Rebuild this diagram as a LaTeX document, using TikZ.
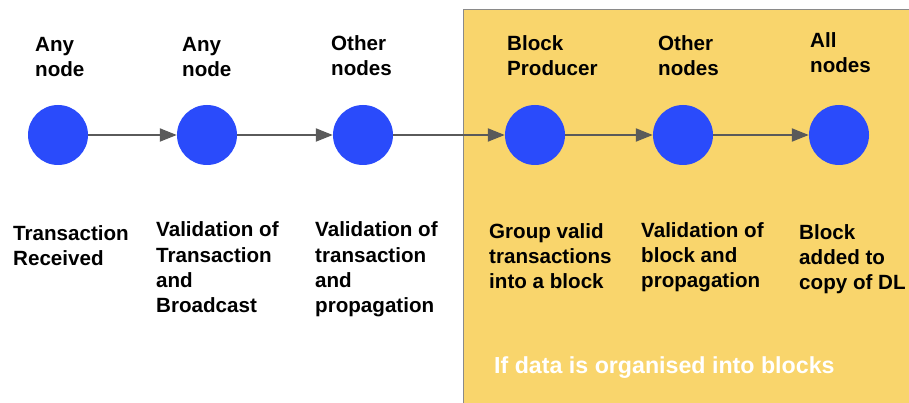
\documentclass[tikz,border=0pt]{standalone}
\usepackage{fontspec}
\setmainfont{Liberation Sans}
\usetikzlibrary{arrows.meta}
\definecolor{dotblue}{HTML}{2A4BFB}
\definecolor{blockyellow}{HTML}{F9D56C}
\definecolor{arrowgray}{HTML}{5A5A5A}
\definecolor{frame}{HTML}{8A8A8A}
\tikzset{
  stage/.style={circle, fill=dotblue, draw=none, minimum size=60pt, inner sep=0pt},
  % captions are anchored on the baseline of their last line
  caption/.style={anchor=base west, inner sep=0pt, align=left,
    font=\fontsize{20.6}{25.2}\selectfont\bfseries, text=black},
  flow/.style={draw=arrowgray, line width=2pt, -{Triangle[length=17pt,width=13pt]}},
}
\begin{document}
\begin{tikzpicture}[x=1pt,y=-1pt]
  \clip (0,0) rectangle (909,403);
  \fill[white] (0,0) rectangle (909,403);
  % shaded region for block-based ledgers
  \draw[fill=blockyellow, draw=frame, line width=1pt] (463.5,10) rectangle (930,430);

  % stages
  \node[stage] (s1) at (58,135) {};
  \node[stage] (s2) at (207,135) {};
  \node[stage] (s3) at (363,135) {};
  \node[stage] (s4) at (535,135) {};
  \node[stage] (s5) at (683,135) {};
  \node[stage] (s6) at (839,135) {};

  \draw[flow] (s1) -- (s2);
  \draw[flow] (s2) -- (s3);
  \draw[flow] (s3) -- (s4);
  \draw[flow] (s4) -- (s5);
  \draw[flow] (s5) -- (s6);

  % who does it
  \node[caption] (w1) at (35,77) {Any\\node};
  \node[caption] (w2) at (182,77) {Any\\node};
  \node[caption] (w3) at (331,76) {Other\\nodes};
  \node[caption] (w4) at (507,76) {Block\\Producer};
  \node[caption] (w5) at (658,76) {Other\\nodes};
  \node[caption] (w6) at (810,73) {All\\nodes};

  % what happens
  \node[caption] (d1) at (13,265.5) {Transaction\\Received};
  \node[caption] (d2) at (156,312.5) {Validation of\\Transaction\\and\\Broadcast};
  \node[caption] (d3) at (315,312.5) {Validation of\\transaction\\and\\propagation};
  \node[caption] (d4) at (489,288.5) {Group valid\\transactions\\into a block};
  \node[caption] (d5) at (641,287.5) {Validation of\\block and\\propagation};
  \node[caption] (d6) at (799,289.5) {Block\\added to\\copy of DL};

  \node[caption, text=white, font=\fontsize{23.2}{28}\selectfont\bfseries] (note) at (494,373) {If data is organised into blocks};
\end{tikzpicture}
\end{document}
